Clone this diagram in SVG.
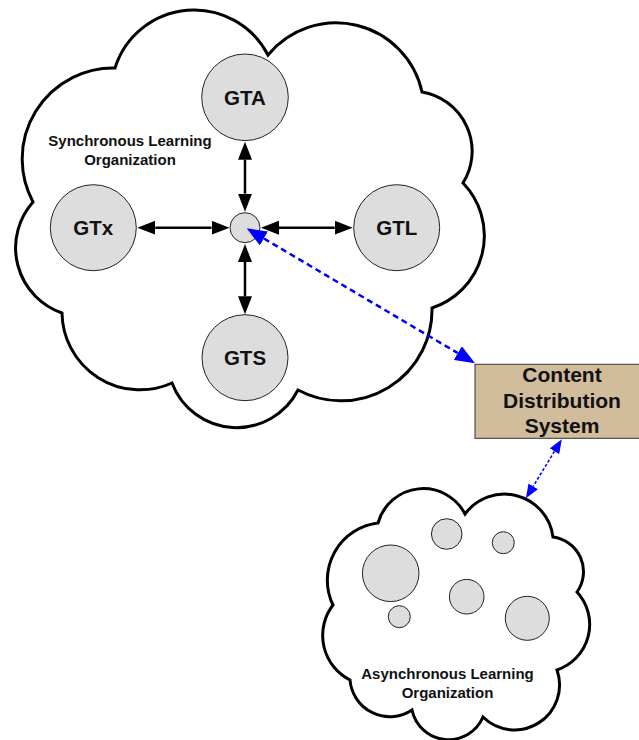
<svg xmlns="http://www.w3.org/2000/svg" width="639" height="740" viewBox="0 0 639 740">
<style>
.cloud{fill:#fff;stroke:#000;stroke-width:3;stroke-linejoin:miter}
.node{fill:#dddddd;stroke:#222;stroke-width:1}
.gt{font-family:"Liberation Sans",Arial,sans-serif;font-weight:bold;font-size:20.5px;fill:#111;text-anchor:middle}
.lbl{font-family:"Liberation Sans",Arial,sans-serif;font-weight:bold;font-size:15px;fill:#111;text-anchor:middle}
.box{fill:#d1bc9c;stroke:#333;stroke-width:1}
.boxt{font-family:"Liberation Sans",Arial,sans-serif;font-weight:bold;font-size:21px;fill:#111;text-anchor:middle}
.blk{fill:none;stroke:#000;stroke-width:2.5;marker-start:url(#ahb);marker-end:url(#ahb)}
.bd{fill:none;stroke:#0000ff;stroke-width:2.5;stroke-dasharray:6 4;marker-start:url(#ahl);marker-end:url(#ahl)}
.bt{fill:none;stroke:#0000ff;stroke-width:1.6;stroke-dasharray:3 2;marker-start:url(#ahs);marker-end:url(#ahs)}
</style>
<defs>
<marker id="ahb" viewBox="0 0 18 14" refX="0" refY="7" markerWidth="18" markerHeight="14" orient="auto-start-reverse" markerUnits="userSpaceOnUse"><path d="M0,0 L18,7 L0,14 z" fill="#000"/></marker>
<marker id="ahl" viewBox="0 0 20 16" refX="0" refY="8" markerWidth="20" markerHeight="16" orient="auto-start-reverse" markerUnits="userSpaceOnUse"><path d="M0,0 L20,8 L0,16 z" fill="#0000ff"/></marker>
<marker id="ahs" viewBox="0 0 14 11" refX="0" refY="5.5" markerWidth="14" markerHeight="11" orient="auto-start-reverse" markerUnits="userSpaceOnUse"><path d="M0,0 L14,5.5 L0,11 z" fill="#0000ff"/></marker>
</defs>

<g id="sync-cloud">
<path class="cloud" d="M115,68 A83,83 0 0 1 268,55 A88,88 0 0 1 422,92 A60,60 0 0 1 463,183 A76,76 0 0 1 432,308 A91,91 0 0 1 298,390 A69,69 0 0 1 172,383 A78,78 0 0 1 62,313 A69,69 0 0 1 33,202 A91,91 0 0 1 115,68 Z"/>
<text class="lbl" x="130" y="146">Synchronous Learning</text>
<text class="lbl" x="130" y="165">Organization</text>
</g>

<g id="async-cloud">
<path class="cloud" d="M378,523 A47,47 0 0 1 465,514 A49,49 0 0 1 553,537 A35,35 0 0 1 577,592 A48,48 0 0 1 557,670 A45,45 0 0 1 483,717 A37.4,37.4 0 0 1 412,710 A40,40 0 0 1 350,680 A50,50 0 0 1 333,605 A57.5,57.5 0 0 1 378,523 Z"/>
<circle class="node" cx="390.7" cy="573.3" r="28.3"/>
<circle class="node" cx="446.7" cy="534" r="15.3"/>
<circle class="node" cx="503.3" cy="542.7" r="11"/>
<circle class="node" cx="466.7" cy="596.7" r="17.3"/>
<circle class="node" cx="399.3" cy="616.7" r="11"/>
<circle class="node" cx="527.3" cy="618.3" r="22"/>
<text class="lbl" x="447.5" y="679">Asynchronous Learning</text>
<text class="lbl" x="447.5" y="698">Organization</text>
</g>

<g id="GTA"><circle class="node" cx="245" cy="97.3" r="43.3"/><text class="gt" x="245" y="104.5">GTA</text></g>
<g id="GTx"><circle class="node" cx="93.3" cy="227.7" r="43"/><text class="gt" x="93.3" y="235">GTx</text></g>
<g id="GTL"><circle class="node" cx="396.7" cy="227.7" r="43"/><text class="gt" x="396.7" y="235">GTL</text></g>
<g id="GTS"><circle class="node" cx="245" cy="357.7" r="43"/><text class="gt" x="245" y="365">GTS</text></g>
<g id="hub"><circle class="node" cx="245" cy="227.7" r="15"/></g>

<g id="cds">
<rect class="box" x="475" y="364.3" width="180" height="74"/>
<text class="boxt" x="562" y="382">Content</text>
<text class="boxt" x="562" y="408">Distribution</text>
<text class="boxt" x="562" y="433">System</text>
</g>

<g id="connectors">
<path class="blk" d="M245,159.7 L245,193.7"/>
<path class="blk" d="M245,262 L245,296.3"/>
<path class="blk" d="M155.3,227.7 L211.5,227.7"/>
<path class="blk" d="M279,227.7 L334.7,227.7"/>
<path class="bd" d="M263.9,238.5 L457.8,353.1"/>
<path class="bt" d="M554.5,451.3 L533.2,486.3"/>
</g>
</svg>
